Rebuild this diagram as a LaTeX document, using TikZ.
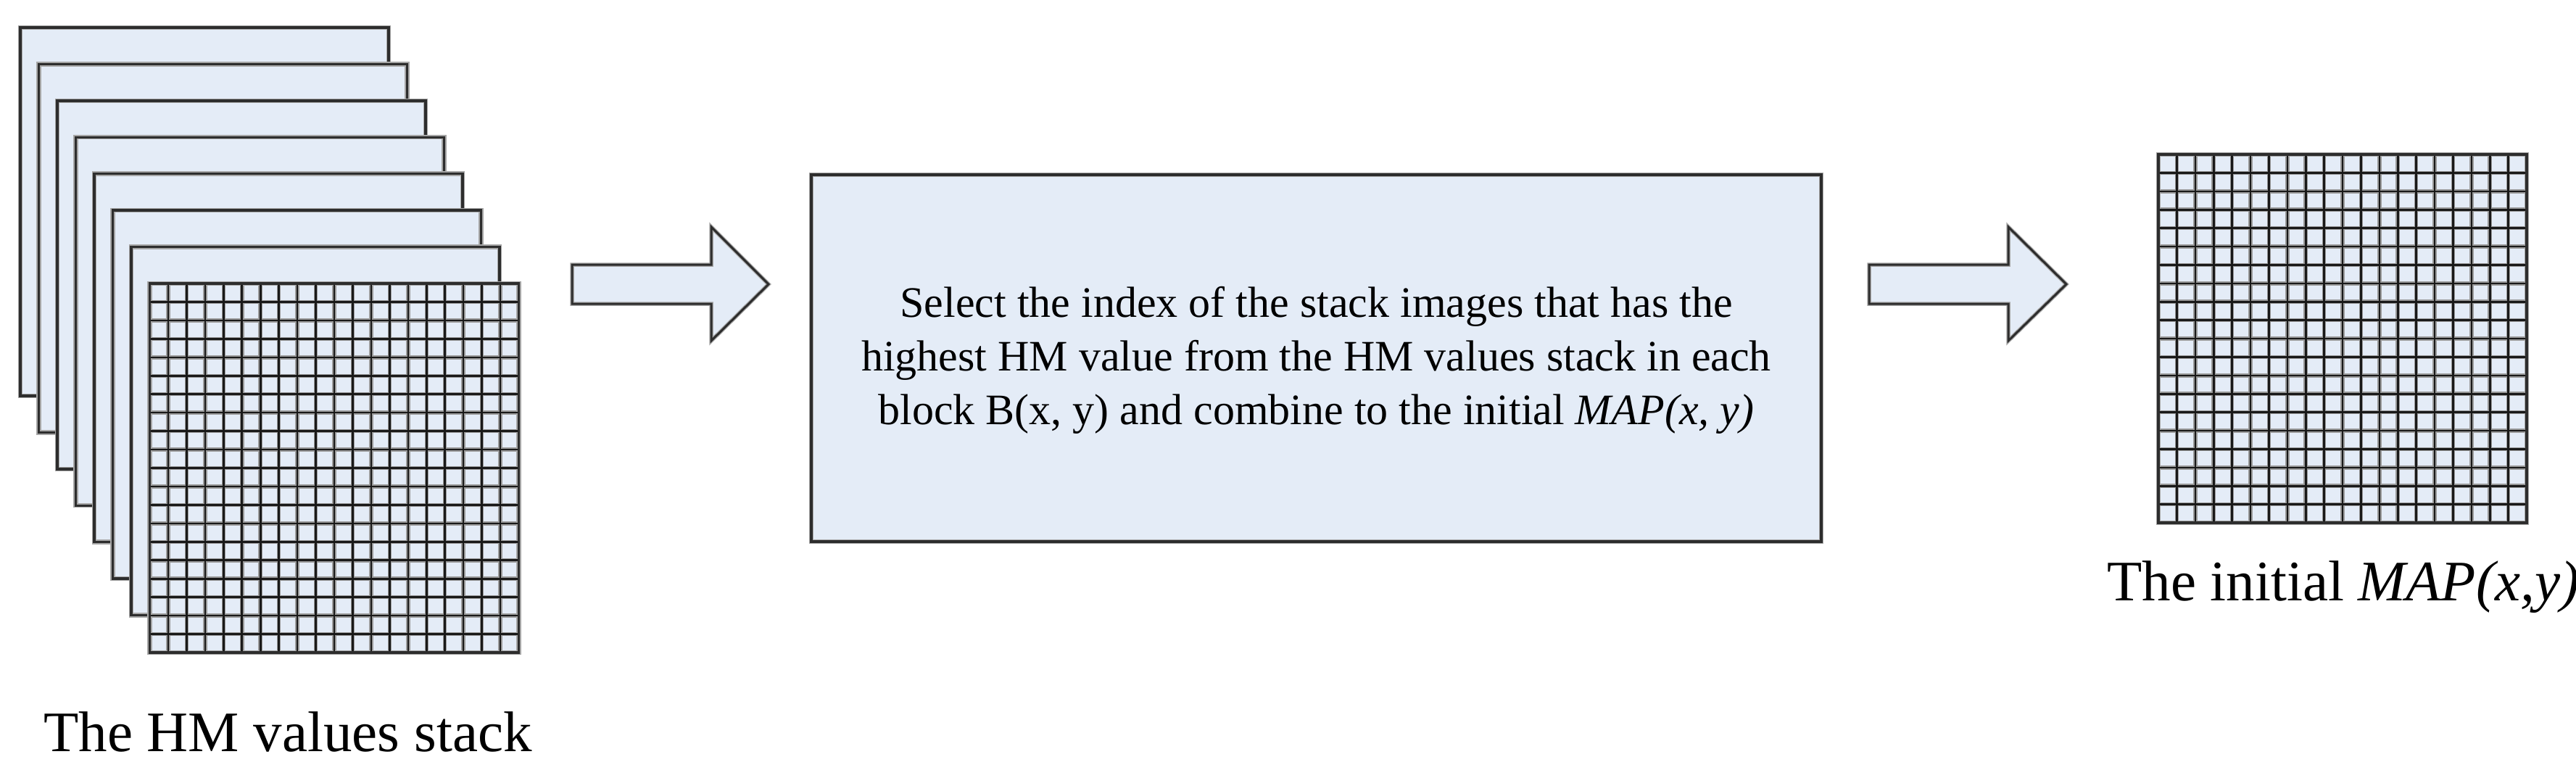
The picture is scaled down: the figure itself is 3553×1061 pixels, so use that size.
\documentclass[tikz,border=0pt]{standalone}
\usepackage{fontspec}
\setmainfont{Liberation Serif}
\definecolor{sheetfill}{RGB}{228,236,247}
\definecolor{edge}{RGB}{45,45,45}
\tikzset{
  sheethalo/.style={draw=black!35, line width=6.5pt},
  sheetedge/.style={draw=edge, line width=3.4pt},
  gridhalo/.style={draw=black!40, line width=5.5pt},
  gridline/.style={draw=black!90, line width=2.6pt},
  labeltext/.style={inner sep=0pt, anchor=base, font=\fontsize{79}{90}\selectfont},
  boxtext/.style={inner sep=0pt, align=center, font=\fontsize{60}{74}\selectfont},
}
\newcommand\mysheet[3]{% x0 y0 size
  \fill[sheetfill] (#1,#2) rectangle ++(#3,#3);
  \draw[sheethalo] (#1,#2) rectangle ++(#3,#3);
  \draw[sheetedge] (#1,#2) rectangle ++(#3,#3);
}
\newcommand\mygridsheet[3]{% x0 y0 size
  \fill[sheetfill] (#1,#2) rectangle ++(#3,#3);
  \foreach \i in {1,...,19}{
    \draw[gridhalo] ({#1+\i*#3/20},#2) -- ++(0,#3);
    \draw[gridhalo] (#1,{#2+\i*#3/20}) -- ++(#3,0);
  }
  \draw[sheethalo] (#1,#2) rectangle ++(#3,#3);
  \foreach \i in {1,...,19}{
    \draw[gridline] ({#1+\i*#3/20},#2) -- ++(0,#3);
    \draw[gridline] (#1,{#2+\i*#3/20}) -- ++(#3,0);
  }
  \draw[sheetedge] (#1,#2) rectangle ++(#3,#3);
}
\begin{document}
\begin{tikzpicture}[x=1pt,y=-1pt]
\useasboundingbox (0,0) rectangle (3553,1061);
% stack of HM value sheets
\foreach \k in {0,...,6}{
  \mysheet{28+25.5*\k}{38+50.4*\k}{508}
}
\mygridsheet{206.5}{391}{509}
\coordinate (stack) at (461,645.5);
\node[labeltext] (stacklabel) at (397,1036) {The HM values stack};

% first block arrow
\coordinate (a1) at (789,392);
\fill[sheetfill] (a1) ++(0,-27) -- ++(192,0) -- ++(0,-52) -- ++(79,79) -- ++(-79,78) -- ++(0,-51) -- ++(-192,0) -- cycle;
\draw[sheethalo, line width=5.5pt, line join=miter] (a1) ++(0,-27) -- ++(192,0) -- ++(0,-52) -- ++(79,79) -- ++(-79,78) -- ++(0,-51) -- ++(-192,0) -- cycle;
\draw[sheetedge, line width=3pt, line join=miter] (a1) ++(0,-27) -- ++(192,0) -- ++(0,-52) -- ++(79,79) -- ++(-79,78) -- ++(0,-51) -- ++(-192,0) -- cycle;

% process box
\coordinate (boxnw) at (1119,241);
\coordinate (boxse) at (2512,747);
\fill[sheetfill] (boxnw) rectangle (boxse);
\draw[sheethalo, line width=6pt] (boxnw) rectangle (boxse);
\draw[sheetedge, line width=3.4pt] (boxnw) rectangle (boxse);
\node[boxtext] (select) at (1815.5,497) {Select the index of the stack images that has the\\
highest HM value from the HM values stack in each\\
block B(x, y) and combine to the initial \textit{MAP(x, y)}};

% second block arrow
\coordinate (a2) at (2578,392);
\fill[sheetfill] (a2) ++(0,-27) -- ++(192,0) -- ++(0,-52) -- ++(80,79) -- ++(-80,78) -- ++(0,-51) -- ++(-192,0) -- cycle;
\draw[sheethalo, line width=5.5pt, line join=miter] (a2) ++(0,-27) -- ++(192,0) -- ++(0,-52) -- ++(80,79) -- ++(-80,78) -- ++(0,-51) -- ++(-192,0) -- cycle;
\draw[sheetedge, line width=3pt, line join=miter] (a2) ++(0,-27) -- ++(192,0) -- ++(0,-52) -- ++(80,79) -- ++(-80,78) -- ++(0,-51) -- ++(-192,0) -- cycle;

% initial MAP grid
\mygridsheet{2977}{213}{508}
\coordinate (map) at (3231,467);
\node[labeltext, anchor=base west] (maplabel) at (2906,828) {The initial \textit{MAP(x,y)}};
\end{tikzpicture}
\end{document}
